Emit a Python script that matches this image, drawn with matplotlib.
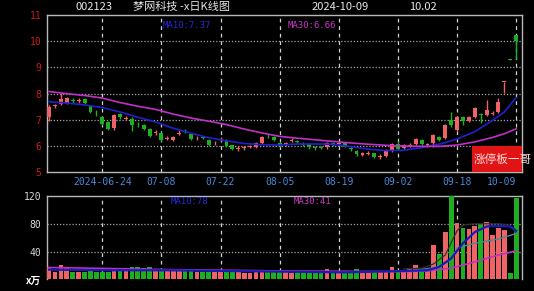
import matplotlib
matplotlib.use("Agg")
import matplotlib.pyplot as plt
from matplotlib.patches import Rectangle
import numpy as np

# daily candles, 2024-06-11 .. 2024-10-09 (80 trading days)
opens = [7.10, 7.52, 7.61, 7.64, 7.75, 7.72, 7.80, 7.52, 7.28, 7.12,
         6.92, 6.68, 7.22, 7.05, 7.05, 6.82, 6.80, 6.65, 6.49, 6.50,
         6.28, 6.23, 6.47, 6.58, 6.45, 6.29, 6.34, 6.23, 6.10, 6.24,
         6.23, 6.03, 5.90, 5.94, 5.98, 5.97, 6.10, 6.40, 6.34, 6.13,
         6.08, 6.21, 6.19, 6.08, 6.07, 5.95, 5.97, 5.96, 6.09, 6.08,
         6.10, 5.90, 5.82, 5.65, 5.71, 5.72, 5.60, 5.62, 5.80, 6.07,
         5.93, 6.02, 6.08, 6.23, 6.04, 6.10, 6.36, 6.30, 7.00, 6.62,
         7.10, 6.97, 7.10, 7.22, 7.19, 7.23, 7.31, 8.45, 9.31, 10.24]
closes = [7.50, 7.55, 7.78, 7.82, 7.72, 7.75, 7.63, 7.30, 7.25, 6.85,
          6.66, 7.18, 7.10, 7.08, 6.80, 6.79, 6.65, 6.40, 6.52, 6.24,
          6.31, 6.36, 6.50, 6.55, 6.28, 6.31, 6.31, 6.05, 6.13, 6.27,
          6.00, 5.88, 5.93, 5.96, 6.01, 6.10, 6.36, 6.37, 6.22, 5.99,
          6.11, 6.24, 6.16, 6.05, 5.95, 5.92, 5.94, 6.12, 6.07, 6.10,
          5.98, 5.88, 5.68, 5.75, 5.73, 5.58, 5.62, 5.84, 6.08, 5.90,
          6.04, 6.04, 6.26, 6.09, 6.06, 6.42, 6.22, 6.80, 6.80, 7.12,
          6.97, 7.12, 7.44, 7.17, 7.38, 7.26, 7.69, 8.46, 9.30, 10.02]
highs = [7.55, 7.62, 8.02, 7.86, 7.82, 7.82, 7.84, 7.56, 7.36, 7.15,
         6.95, 7.22, 7.28, 7.15, 7.10, 6.90, 6.84, 6.68, 6.60, 6.54,
         6.38, 6.40, 6.60, 6.66, 6.48, 6.38, 6.40, 6.26, 6.20, 6.33,
         6.26, 6.06, 6.00, 6.02, 6.06, 6.14, 6.40, 6.46, 6.38, 6.16,
         6.16, 6.30, 6.24, 6.14, 6.10, 6.00, 6.02, 6.16, 6.14, 6.16,
         6.14, 5.96, 5.85, 5.78, 5.80, 5.75, 5.68, 5.88, 6.12, 6.18,
         6.08, 6.10, 6.30, 6.26, 6.12, 6.46, 6.40, 6.84, 7.30, 7.16,
         7.14, 7.16, 7.48, 7.28, 7.76, 7.34, 7.82, 8.46, 9.31, 10.24]
lows = [6.95, 7.45, 7.58, 7.60, 7.66, 7.64, 7.60, 7.26, 7.16, 6.80,
        6.60, 6.60, 7.05, 6.98, 6.57, 6.72, 6.60, 6.36, 6.44, 6.20,
        6.22, 6.20, 6.42, 6.50, 6.25, 6.24, 6.26, 6.02, 6.04, 6.18,
        5.96, 5.85, 5.82, 5.86, 5.92, 5.94, 6.08, 6.32, 6.18, 5.95,
        6.02, 6.16, 6.10, 6.00, 5.90, 5.86, 5.88, 5.90, 6.02, 6.02,
        5.95, 5.82, 5.64, 5.62, 5.66, 5.55, 5.50, 5.58, 5.76, 5.86,
        5.88, 5.98, 6.04, 6.05, 5.96, 5.98, 6.18, 6.26, 6.72, 6.58,
        6.80, 6.92, 7.06, 6.88, 7.14, 7.18, 7.28, 8.02, 9.30, 9.31]
volumes = [17, 10, 21, 16, 11, 10, 10, 12, 10, 11,
           11, 16, 12, 12, 18, 17, 16, 17, 12, 13.5,
           13.5, 15, 12, 12, 13.5, 10, 10, 10, 10, 10,
           11, 10, 10, 8.7, 9.6, 10, 13.5, 10, 10, 10,
           10, 8.7, 10, 8.7, 8.7, 8.7, 10, 14.5, 8.7, 9.7,
           10, 8.7, 14.5, 12.6, 11, 10, 10, 10, 17.4, 13.5,
           13.5, 16, 20.8, 13.5, 13.5, 49.8, 36.3, 67.7, 135, 81.3,
           74, 72.6, 76.4, 79.8, 82.2, 64.3, 74, 70.6, 8.7, 117]

# moving averages
ma_idx = [0, 3, 6, 9, 12, 15, 18, 21, 24, 27, 30, 33, 36, 39, 42, 45,
          48, 51, 54, 57, 60, 63, 66, 69, 72, 75, 77, 79]
ma10 = [7.69, 7.64, 7.57, 7.47, 7.30, 7.10, 6.92, 6.68, 6.49, 6.32, 6.20, 6.10, 6.05, 6.04, 6.08, 6.08,
        6.07, 5.98, 5.88, 5.83, 5.84, 5.94, 6.07, 6.27, 6.55, 6.98, 7.30, 7.85]
ma30 = [8.08, 8.00, 7.93, 7.83, 7.66, 7.52, 7.40, 7.22, 7.07, 6.95, 6.82, 6.65, 6.50, 6.37, 6.30, 6.24,
        6.18, 6.12, 6.07, 6.03, 6.00, 5.99, 5.99, 6.04, 6.16, 6.33, 6.47, 6.66]

vma10_idx = [0, 10, 20, 30, 40, 50, 60, 64, 66, 68, 70, 72, 74, 76, 78, 79]
vma10 = [14, 13, 13, 12, 11, 10, 12, 13, 18, 30, 52, 68, 76, 77, 76, 70]
vma30_idx = [0, 20, 40, 60, 64, 68, 72, 76, 79]
vma30 = [17, 14, 12, 11, 12, 16, 25, 35, 41]
vma5_idx = [60, 63, 65, 67, 69, 70, 72, 74, 76, 78, 79]
vma5 = [15, 16, 22, 35, 70, 78, 80, 80, 80, 78, 66]
vma20_idx = [62, 66, 68, 69, 72, 76, 79]
vma20 = [13, 18, 28, 45, 52, 58, 66]

tick_idx = [9, 19, 29, 39, 49, 59, 69, 79]
tick_labels = ["2024-06-24", "07-08", "07-22", "08-05", "08-19", "09-02", "09-18", "10-09"]

UP = "#ee6464"
DOWN = "#1fae1f"
GRIDC = "#a8a8a8"
SPINE = "#b8b8b8"

x = np.arange(len(closes))
o = np.asarray(opens)
c = np.asarray(closes)
up = c >= o
colors = [UP if u else DOWN for u in up]

fig = plt.figure(figsize=(5.34, 2.91), dpi=100)
fig.patch.set_facecolor("black")

ax = fig.add_axes([0.0875, 0.4079, 0.8891, 0.5406])
axv = fig.add_axes([0.0875, 0.0402, 0.8891, 0.2863])

for a in (ax, axv):
    a.set_facecolor("black")
    for s in a.spines.values():
        s.set_color(SPINE)
        s.set_linewidth(1.0)
    a.set_xlim(-0.4, 79.9)
    for t in tick_idx:
        a.axvline(t, color="#d0d0d0", lw=0.9, ls=(0, (3, 3)), zorder=1)
axv.spines["bottom"].set_visible(False)

# price panel
ax.set_ylim(5, 11)
for lv in [6, 7, 8, 9, 10]:
    ax.axhline(lv, color=GRIDC, lw=0.9, ls=(0, (1, 1.5)), zorder=1)
ax.vlines(x, lows, highs, colors=colors, lw=1.0, zorder=3)
body = np.maximum(np.abs(c - o), 0.03)
ax.bar(x, body, bottom=np.minimum(o, c), width=0.66, color=colors, zorder=4, linewidth=0)
ax.plot(ma_idx, ma10, color="#2020d0", lw=1.2, zorder=5)
ax.plot(ma_idx, ma30, color="#c030c8", lw=1.2, zorder=5)

ax.set_yticks([5, 6, 7, 8, 9, 10, 11])
ax.set_yticklabels(["5", "6", "7", "8", "9", "10", "11"], family="DejaVu Sans Mono")
ax.tick_params(axis="y", colors="#d01818", length=0, pad=4, labelsize=7)
ax.set_xticks(tick_idx)
ax.set_xticklabels(tick_labels, family="DejaVu Sans Mono")
ax.tick_params(axis="x", colors="#4a8ad8", length=0, pad=3.5, labelsize=7)
ax.get_xticklabels()[-1].set_ha("right")

ax.text(0.245, 0.93, "MA10:7.37", transform=ax.transAxes, color="#2828d8",
        fontsize=6.5, family="DejaVu Sans Mono", va="center")
ax.text(0.508, 0.93, "MA30:6.66", transform=ax.transAxes, color="#c838c8",
        fontsize=6.5, family="DejaVu Sans Mono", va="center")

ax.add_patch(Rectangle((71.6, 5.0), 9, 1.0, facecolor="#e01414", edgecolor="none", zorder=6))
fig.text(0.8876, 0.4536, "涨停板一哥", color="#ffd8d8", fontsize=8.4,
         family=["Noto Sans CJK SC", "DejaVu Sans"], va="center", ha="left", zorder=10)

# volume panel
axv.set_ylim(0, 120)
for lv in [40, 80]:
    axv.axhline(lv, color=GRIDC, lw=0.9, ls=(0, (1, 1.5)), zorder=1)
axv.bar(x, volumes, width=0.8, color=colors, linewidth=0, zorder=3)
axv.plot(vma5_idx, vma5, color="#303030", lw=0.9, zorder=4)
axv.plot(vma20_idx, vma20, color="#4a8a90", lw=1.0, zorder=4)
axv.plot(vma30_idx, vma30, color="#c030c8", lw=1.2, zorder=5)
axv.plot(vma10_idx, vma10, color="#1a1ab8", lw=1.6, zorder=5)
axv.set_yticks([40, 80, 120])
axv.set_yticklabels(["40", "80", "120"], family="DejaVu Sans Mono")
axv.tick_params(axis="y", colors="#d8d8d8", length=0, pad=4, labelsize=7)
axv.set_xticks([])
axv.text(0.26, 0.93, "MA10:78", transform=axv.transAxes, color="#2828d8",
         fontsize=6.5, family="DejaVu Sans Mono", va="center")
axv.text(0.52, 0.93, "MA30:41", transform=axv.transAxes, color="#c838c8",
         fontsize=6.5, family="DejaVu Sans Mono", va="center")
fig.text(26 / 534, 1 - 281 / 291, "x万", color="white", fontsize=7, fontweight="bold",
         family=["Noto Sans CJK SC", "DejaVu Sans"], va="center", ha="left")

# header
head = dict(color="#e6e6e6", fontsize=8, va="center", ha="left",
            family=["Noto Sans CJK SC", "DejaVu Sans"])
fig.text(75 / 534, 1 - 7 / 291, "002123", **head)
fig.text(133 / 534, 1 - 7 / 291, "梦网科技 -x日K线图", **head)
fig.text(312 / 534, 1 - 7 / 291, "2024-10-09", **head)
fig.text(409 / 534, 1 - 7 / 291, "10.02", **head)

fig.savefig("out.png", dpi=100, facecolor="black")
